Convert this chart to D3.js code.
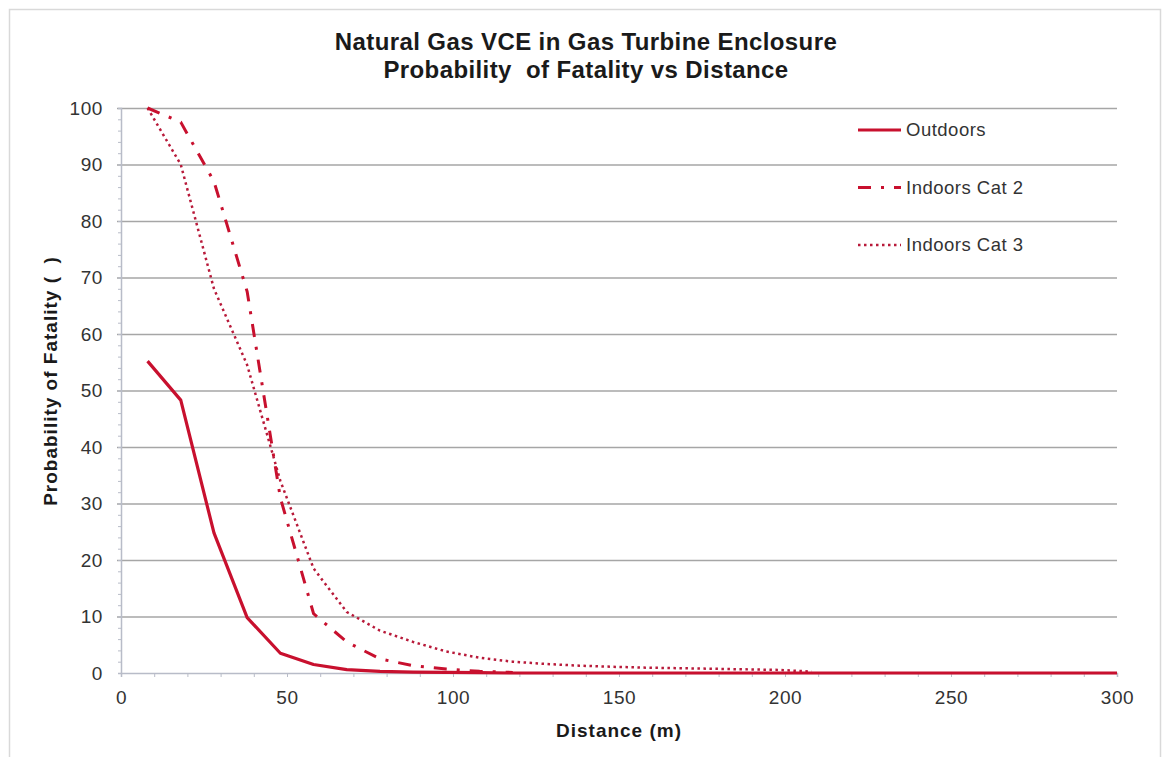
<!DOCTYPE html>
<html>
<head>
<meta charset="utf-8">
<script src="https://cdn.jsdelivr.net/npm/d3@7"></script>
<style>
	body { margin: 0; background: #fff; }
	svg { font-family: "Liberation Sans", Arial, sans-serif; }
</style>
</head>
<body>
<svg id="svg_main" width="1165" height="757"></svg>
<script>
var distance = [8, 18, 28, 38, 48, 58, 68, 78, 88, 98, 108, 118, 128, 138, 148, 158, 168, 178, 188, 198, 208, 218, 228, 238, 248, 258, 268, 278, 288, 300];
var outdoors = [55.2, 48.3, 24.8, 9.8, 3.5, 1.5, 0.6, 0.3, 0.15, 0.1, 0.05, 0, 0, 0, 0, 0, 0, 0, 0, 0, 0, 0, 0, 0, 0, 0, 0, 0, 0, 0];
var indoorsCat2 = [100, 97.5, 87, 67.5, 31, 10.5, 5.5, 2.5, 1.3, 0.7, 0.3, 0.1, null, null, null, null, null, null, null, null, null, null, null, null, null, null, null, null, null, null];
var indoorsCat3 = [100, 90, 68, 54.5, 34, 18.5, 10.8, 7.5, 5.5, 3.8, 2.7, 2.0, 1.6, 1.3, 1.1, 0.95, 0.85, 0.75, 0.65, 0.55, 0.25, null, null, null, null, null, null, null, null, null];
var seriesNames = ["Outdoors", "Indoors Cat 2", "Indoors Cat 3"];
var xTicks = [0, 50, 100, 150, 200, 250, 300];
var yTicks = [0, 10, 20, 30, 40, 50, 60, 70, 80, 90, 100];

var red = "#c8102e";
var styles = {
	"Outdoors": { dash: null, width: 3.2, color: red },
	"Indoors Cat 2": { dash: "13,10,3,10", width: 3, color: red },
	"Indoors Cat 3": { dash: "2.5,3.5", width: 2.5, color: "#b81a3a" }
};

var svg = d3.select("#svg_main");
var margin = { top: 108, left: 121, right: 48, bottom: 84 };
var width = 1165 - margin.left - margin.right,
	height = 757 - margin.top - margin.bottom;

// outer frame
svg.append("rect")
	.attr("x", 9.5).attr("y", 9.5)
	.attr("width", 1151).attr("height", 760)
	.attr("fill", "none")
	.attr("stroke", "#d9d9d9")
	.attr("stroke-width", 1.5);

svg.append("text")
	.attr("x", 586).attr("y", 50)
	.attr("text-anchor", "middle")
	.attr("font-weight", "bold")
	.attr("font-size", "24px")
	.attr("letter-spacing", "0.4px")
	.attr("fill", "#1a1a1a")
	.text("Natural Gas VCE in Gas Turbine Enclosure");
svg.append("text")
	.attr("x", 586).attr("y", 78)
	.attr("text-anchor", "middle")
	.attr("font-weight", "bold")
	.attr("font-size", "24px")
	.attr("letter-spacing", "0.4px")
	.attr("fill", "#1a1a1a")
	.style("white-space", "pre")
	.text("Probability  of Fatality vs Distance");

var g = svg.append("g")
	.attr("transform", `translate(${margin.left}, ${margin.top})`);

var x = d3.scaleLinear().domain([0, 300]).range([0, width]),
	y = d3.scaleLinear().domain([0, 100]).range([height, 0]);

// grid
g.append("g")
	.attr("class", "grid")
	.call(d3.axisLeft(y).tickValues(yTicks.slice(1)).tickSize(-width).tickFormat(""))
	.call(s => s.select(".domain").remove())
	.call(s => s.selectAll("line").attr("stroke", "#a6a6a6").attr("stroke-width", 1.5).attr("x1", -4));

// minor ticks
g.append("g")
	.call(d3.axisLeft(y).ticks(50).tickSize(3).tickFormat(""))
	.call(s => s.select(".domain").attr("stroke", "#b8bcc8").attr("stroke-width", 1.5))
	.call(s => s.selectAll("line").attr("stroke", "#b8bcc8"));

g.append("g")
	.attr("transform", `translate(0, ${height})`)
	.call(d3.axisBottom(x).ticks(30).tickSize(4).tickFormat(""))
	.call(s => s.select(".domain").attr("stroke", "#b8bcc8").attr("stroke-width", 1.5))
	.call(s => s.selectAll("line").attr("stroke", "#b8bcc8"));

// tick labels
g.append("g")
	.call(d3.axisLeft(y).tickValues(yTicks).tickSize(0).tickPadding(18))
	.call(s => s.select(".domain").remove())
	.call(s => s.selectAll("text")
		.attr("font-family", "Liberation Sans, Arial, sans-serif")
		.attr("letter-spacing", "0.6px")
		.attr("font-size", "19px").attr("fill", "#333"));

g.append("g")
	.attr("transform", `translate(0, ${height})`)
	.call(d3.axisBottom(x).tickValues(xTicks).tickSize(0).tickPadding(18))
	.call(s => s.select(".domain").remove())
	.call(s => s.selectAll("text")
		.attr("font-family", "Liberation Sans, Arial, sans-serif")
		.attr("letter-spacing", "0.6px")
		.attr("font-size", "19px").attr("fill", "#333"));

// axis titles
g.append("text")
	.attr("transform", "rotate(-90)")
	.attr("x", -(381 - margin.top))
	.attr("y", -64)
	.attr("text-anchor", "middle")
	.attr("font-weight", "bold")
	.attr("font-size", "19px")
	.attr("letter-spacing", "1px")
	.attr("fill", "#1a1a1a")
	.style("white-space", "pre")
	.text("Probability of Fatality (  )");
g.append("text")
	.attr("x", x(150))
	.attr("y", height + 64)
	.attr("text-anchor", "middle")
	.attr("font-weight", "bold")
	.attr("font-size", "19px")
	.attr("letter-spacing", "1px")
	.attr("fill", "#1a1a1a")
	.text("Distance (m)");

var data = {
	"Outdoors": outdoors,
	"Indoors Cat 2": indoorsCat2,
	"Indoors Cat 3": indoorsCat3
};

var line = d3.line()
	.defined(d => d[1] != null)
	.x(d => x(d[0]))
	.y(d => y(d[1]));

// draw dotted first, solid on top
for (let name of ["Indoors Cat 3", "Indoors Cat 2", "Outdoors"]) {
	let st = styles[name];
	g.append("path")
		.datum(distance.map((d, i) => [d, data[name][i]]))
		.attr("fill", "none")
		.attr("stroke", st.color)
		.attr("stroke-width", st.width)
		.attr("stroke-dasharray", st.dash)
		.attr("stroke-linejoin", "round")
		.attr("d", line);
}

// legend
var legend = svg.append("g").attr("class", "legend");
seriesNames.forEach((name, i) => {
	let st = styles[name];
	let ly = 130 + i * 57.5;
	legend.append("line")
		.attr("x1", 858).attr("x2", 901)
		.attr("y1", ly).attr("y2", ly)
		.attr("stroke", st.color)
		.attr("stroke-width", st.width)
		.attr("stroke-dasharray", st.dash);
	legend.append("text")
		.attr("x", 906).attr("y", ly + 6)
		.attr("font-size", "18.5px")
		.attr("letter-spacing", "0.5px")
		.attr("fill", "#333")
		.text(name);
});
</script>
</body>
</html>
